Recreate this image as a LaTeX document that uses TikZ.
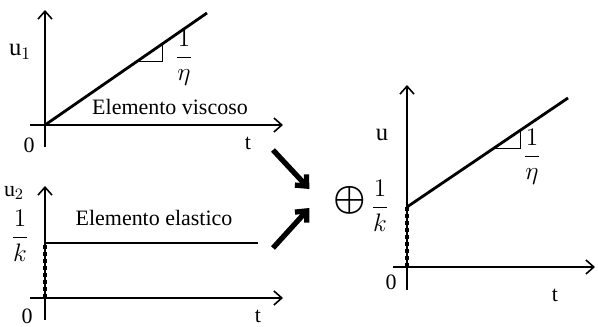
\documentclass[tikz,border=0pt]{standalone}
\usepackage{fontspec}
\setmainfont{Liberation Serif}
\usepackage{amsmath,bm}
\usetikzlibrary{arrows.meta,positioning,calc}

\tikzset{
  axis/.style={line width=0.9pt,-{Straight Barb[length=4.5pt,width=8pt]}},
  graph/.style={line width=1.6pt},
  slope/.style={line width=0.4pt},
  dots/.style={line width=2pt,dotted},
  sumarrow/.style={line width=3pt,-{Straight Barb[length=5pt,width=9pt]}},
  lbl/.style={inner sep=0pt,font=\fontsize{12.5}{14}\selectfont}
}

\begin{document}
\begin{tikzpicture}[x=0.02cm,y=-0.02cm]

\useasboundingbox (0,0) rectangle (598,327);

% viscous element
\coordinate (O1) at (45,125);

  \draw[axis] ($ (O1) + (0,22) $) -- ($ (O1) + (0,-115) $);
  \draw[axis] ($ (O1) + (-15,0) $) -- ($ (O1) + (238,0) $);
  \draw[graph] (O1) -- ($ (O1) + (162,-112) $);
  \draw[slope] ($ (O1) + (93,-64) $) -- ($ (O1) + (117,-64) $) -- ($ (O1) + (117,-81) $);

\node[lbl] (U1) at (20,52) {\fontsize{14}{16}\selectfont u$_1$};
\node[lbl] (Z1) at (29,145) {0};
\node[lbl] (T1) at (248,143) {t};
\node[lbl] (E1) at (170,107) {Elemento viscoso};
\node[lbl] (F1) at (184,58) {\fontsize{14}{16}\selectfont$\dfrac{1}{\eta}$};

% elastic element
\coordinate (O2) at (45,298);

  \draw[axis] ($ (O2) + (0,22) $) -- ($ (O2) + (0,-112) $);
  \draw[axis] ($ (O2) + (-15,0) $) -- ($ (O2) + (238,0) $);
  \draw[dots] (O2) -- ($ (O2) + (0,-55) $);
  \draw[graph] ($ (O2) + (0,-55) $) -- ($ (O2) + (213,-55) $);

\node[lbl] (U2) at (14,193) {u$_2$};
\node[lbl] (F2) at (20,236) {\fontsize{14}{16}\selectfont$\dfrac{1}{k}$};
\node[lbl] (Z2) at (27,316) {0};
\node[lbl] (T2) at (258,316) {t};
\node[lbl] (E2) at (154,218) {Elemento elastico};

% sum
\node[lbl,font=\fontsize{22}{24}\selectfont] (S) at (350,200) {$\bm{\oplus}$};
\coordinate (A1) at (273,150);
\coordinate (A2) at (273,248);

  \draw[sumarrow] (A1) -- ($ (S.west) + (-24,-11) $);
  \draw[sumarrow] (A2) -- ($ (S.west) + (-24,8) $);

% Maxwell response
\coordinate (O3) at (407,267);

  \draw[axis] ($ (O3) + (0,23) $) -- ($ (O3) + (0,-182) $);
  \draw[axis] ($ (O3) + (-14,0) $) -- ($ (O3) + (188,0) $);
  \draw[dots] (O3) -- ($ (O3) + (0,-60) $);
  \draw[graph] ($ (O3) + (0,-60) $) -- ($ (O3) + (161,-169) $);
  \draw[slope] ($ (O3) + (88,-119) $) -- ($ (O3) + (113,-119) $) -- ($ (O3) + (113,-136) $);

\node[lbl] (U3) at (382,135) {\fontsize{14}{16}\selectfont u};
\node[lbl] (F3) at (380,206) {\fontsize{14}{16}\selectfont$\dfrac{1}{k}$};
\node[lbl] (F4) at (532,157) {\fontsize{14}{16}\selectfont$\dfrac{1}{\eta}$};
\node[lbl] (Z3) at (391,282) {0};
\node[lbl] (T3) at (555,295) {t};

\end{tikzpicture}
\end{document}
